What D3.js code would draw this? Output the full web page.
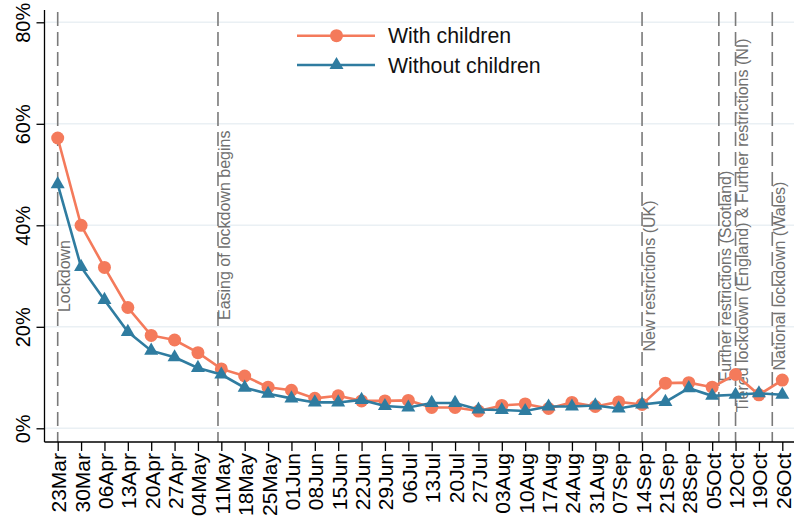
<!DOCTYPE html>
<html><head><meta charset="utf-8">
<script src="https://cdn.jsdelivr.net/npm/d3@7"></script>
<style>
body{margin:0;background:#fff}
svg{display:block}
text{font-family:Arial,"Liberation Sans",sans-serif}
</style>
</head><body>
<svg id="c" width="794" height="519"></svg>
<script>
const weeks = ["2020-03-23","2020-03-30","2020-04-06","2020-04-13","2020-04-20","2020-04-27","2020-05-04","2020-05-11","2020-05-18","2020-05-25","2020-06-01","2020-06-08","2020-06-15","2020-06-22","2020-06-29","2020-07-06","2020-07-13","2020-07-20","2020-07-27","2020-08-03","2020-08-10","2020-08-17","2020-08-24","2020-08-31","2020-09-07","2020-09-14","2020-09-21","2020-09-28","2020-10-05","2020-10-12","2020-10-19","2020-10-26"];
const tickLabels = ["23Mar","30Mar","06Apr","13Apr","20Apr","27Apr","04May","11May","18May","25May","01Jun","08Jun","15Jun","22Jun","29Jun","06Jul","13Jul","20Jul","27Jul","03Aug","10Aug","17Aug","24Aug","31Aug","07Sep","14Sep","21Sep","28Sep","05Oct","12Oct","19Oct","26Oct"];
const withChildren = [57.2,40.0,31.7,23.8,18.3,17.4,14.9,11.7,10.3,8.1,7.5,5.9,6.4,5.4,5.4,5.5,4.1,4.1,3.4,4.5,4.8,3.9,5.1,4.3,5.2,4.7,8.9,9.0,8.1,10.6,6.6,9.5];
const withoutChildren = [48.1,31.8,25.3,19.0,15.3,14.0,11.9,10.6,8.0,6.8,5.9,5.1,5.1,5.6,4.4,4.1,5.0,5.0,3.7,3.6,3.4,4.3,4.3,4.5,3.9,4.7,5.2,7.9,6.4,6.6,6.9,6.6];
const seriesNames = ["With children","Without children"];
const yTicks = [0,20,40,60,80];
const eventDates = ["2020-03-23","2020-05-10","2020-09-14","2020-10-07","2020-10-12","2020-10-23"];
const eventLabels = ["Lockdown","Easing of lockdown begins","New restrictions (UK)","Further restrictions (Scotland)","Tiered lockdown (England) & Further restrictions (NI)","National lockdown (Wales)"];
const eventLabelAt = [30,40,30,30,40,30];

const parse = d3.utcParse("%Y-%m-%d");
const dates = weeks.map(parse);
const svg = d3.select("#c");
const orange = "#f47a5b", blue = "#2f7ca0";

const x = d3.scaleUtc().domain([dates[0], dates[dates.length-1]]).range([57.7, 782.3]);
const y = d3.scaleLinear().domain([0, 80]).range([428.3, 22.3]);
const axisX = 44.5, axisY = 442;

// gridlines
svg.append("g").selectAll("line").data(yTicks).join("line")
  .attr("x1", axisX).attr("x2", 794)
  .attr("y1", d => y(d)).attr("y2", d => y(d))
  .attr("stroke", "#eaf0f4").attr("stroke-width", 1.5);

// event lines
svg.append("g").selectAll("line").data(eventDates).join("line")
  .attr("x1", d => x(parse(d))).attr("x2", d => x(parse(d)))
  .attr("y1", 12).attr("y2", axisY)
  .attr("stroke", "#7a7a7a").attr("stroke-width", 1.6)
  .attr("stroke-dasharray", "14,6");

// event labels
svg.append("g").selectAll("text").data(eventLabels).join("text")
  .attr("transform", (d,i) => `translate(${x(parse(eventDates[i])) + 12.5},${y(eventLabelAt[i])}) rotate(-90)`)
  .attr("text-anchor", "middle")
  .attr("font-size", 16).attr("fill", "#707070")
  .text(d => d);

// y axis
const gy = svg.append("g").attr("transform", `translate(${axisX},0)`)
  .call(d3.axisLeft(y).tickValues(yTicks).tickSize(8).tickFormat(d => d + "%"));
gy.select(".domain").remove();
gy.selectAll(".tick line").attr("stroke", "#000").attr("stroke-width", 1.3);
gy.selectAll(".tick text")
  .attr("x", null).attr("dy", null)
  .attr("transform", "translate(-14.5,0) rotate(-90)")
  .attr("text-anchor", "middle")
  .attr("font-size", 20).attr("fill", "#000")
  .attr("font-family", "Arial, 'Liberation Sans', sans-serif");
svg.append("line").attr("x1", axisX).attr("x2", axisX).attr("y1", 10).attr("y2", axisY)
  .attr("stroke", "#000").attr("stroke-width", 1.3);

// x axis
const gx = svg.append("g").attr("transform", `translate(0,${axisY})`)
  .call(d3.axisBottom(x).tickValues(dates).tickSize(9).tickFormat((d,i) => tickLabels[i]));
gx.select(".domain").remove();
gx.selectAll(".tick line").attr("stroke", "#000").attr("stroke-width", 1.3);
gx.selectAll(".tick text")
  .attr("y", null).attr("dy", null)
  .attr("transform", "translate(8,11) rotate(-90)")
  .attr("text-anchor", "end")
  .attr("font-size", 21).attr("fill", "#000")
  .attr("font-family", "Arial, 'Liberation Sans', sans-serif");
svg.append("line").attr("x1", axisX).attr("x2", 794).attr("y1", axisY).attr("y2", axisY)
  .attr("stroke", "#000").attr("stroke-width", 1.3);

// series
const line = d3.line().x((d,i) => x(dates[i])).y(d => y(d));
svg.append("path").datum(withChildren).attr("d", line)
  .attr("fill", "none").attr("stroke", orange).attr("stroke-width", 2.6);
svg.append("g").selectAll("circle").data(withChildren).join("circle")
  .attr("cx", (d,i) => x(dates[i])).attr("cy", d => y(d)).attr("r", 6.5).attr("fill", orange);

const tri = d3.symbol(d3.symbolTriangle, 85);
svg.append("path").datum(withoutChildren).attr("d", line)
  .attr("fill", "none").attr("stroke", blue).attr("stroke-width", 2.6);
svg.append("g").selectAll("path").data(withoutChildren).join("path")
  .attr("d", tri).attr("transform", (d,i) => `translate(${x(dates[i])},${y(d)})`).attr("fill", blue);

// legend
const lg = svg.append("g");
const legendRows = [{name: seriesNames[0], color: orange, mark: "circle", yy: 35.7},
                    {name: seriesNames[1], color: blue, mark: "tri", yy: 65}];
legendRows.forEach(r => {
  lg.append("line").attr("x1", 297).attr("x2", 375).attr("y1", r.yy).attr("y2", r.yy)
    .attr("stroke", r.color).attr("stroke-width", 2.6);
  if (r.mark === "circle") lg.append("circle").attr("cx", 336.5).attr("cy", r.yy).attr("r", 6.5).attr("fill", r.color);
  else lg.append("path").attr("d", tri).attr("transform", `translate(336.5,${r.yy})`).attr("fill", r.color);
  lg.append("text").attr("x", 388).attr("y", r.yy + 7.5).attr("font-size", 21.3).attr("fill", "#111").text(r.name);
});
</script>
</body></html>
